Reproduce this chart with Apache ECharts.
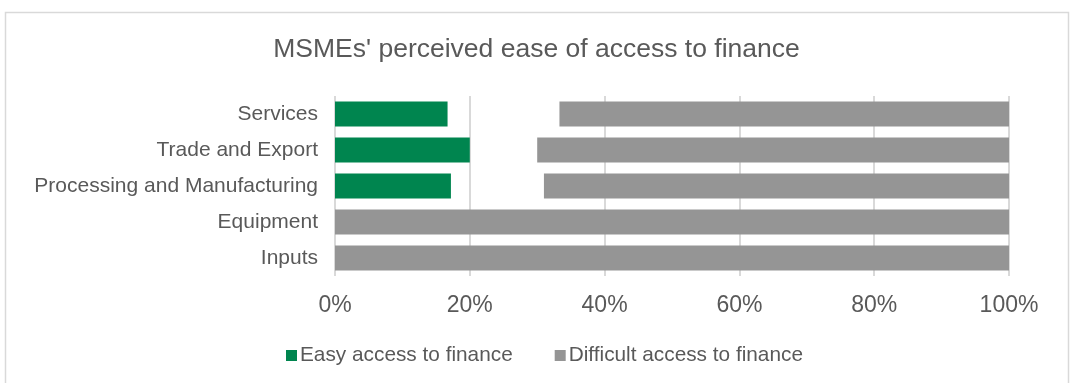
<!DOCTYPE html>
<html>
<head>
<meta charset="utf-8">
<script src="https://cdn.jsdelivr.net/npm/echarts@6/dist/echarts.min.js"></script>
<style>
  html, body { margin: 0; padding: 0; background: #fff; }
  #chart { width: 1073px; height: 383px; }
</style>
</head>
<body>
<div id="chart"></div>
<script>
// Sectors, listed bottom to top
const categories = ['Inputs', 'Equipment', 'Processing and Manufacturing', 'Trade and Export', 'Services'];
// Share of MSMEs per sector (%)
const easyAccess = [0, 0, 17.2, 20.0, 16.7];
const neutral = [0, 0, 13.8, 10.0, 16.6];
const difficultAccess = [100, 100, 69.0, 70.0, 66.7];
const xTicks = [0, 20, 40, 60, 80, 100];

const FONT = "'Liberation Sans', Arial, sans-serif";
const TEXT = '#595959';

const chart = echarts.init(document.getElementById('chart'));
chart.setOption({
  animation: false,
  backgroundColor: '#fff',
  graphic: [{
    type: 'rect',
    shape: { x: 5.5, y: 12.5, width: 1063, height: 400 },
    style: { fill: 'none', stroke: '#d9d9d9', lineWidth: 1.5 },
    silent: true
  }],
  title: {
    text: "MSMEs' perceived ease of access to finance",
    left: 'center',
    top: 31,
    textStyle: { fontFamily: FONT, fontSize: 26.5, fontWeight: 'normal', color: TEXT }
  },
  legend: {
    data: ['Easy access to finance', 'Difficult access to finance'],
    left: 281,
    top: 340,
    icon: 'rect',
    itemWidth: 11,
    itemHeight: 11,
    itemGap: 42,
    textStyle: { fontFamily: FONT, fontSize: 20.8, color: TEXT, padding: [0, 0, 0, -2] }
  },
  grid: { left: 335, right: 64, top: 96, bottom: 107 },
  xAxis: {
    type: 'value',
    min: xTicks[0],
    max: xTicks[xTicks.length - 1],
    interval: 20,
    axisLine: { show: false },
    axisTick: { show: false },
    splitLine: { lineStyle: { color: '#d9d9d9', width: 2 } },
    axisLabel: {
      formatter: v => v + '%',
      fontFamily: FONT, fontSize: 23, color: TEXT, margin: 18
    }
  },
  yAxis: {
    type: 'category',
    data: categories,
    axisLine: { show: false },
    axisTick: { show: false },
    axisLabel: { fontFamily: FONT, fontSize: 21, color: TEXT, margin: 17 }
  },
  series: [
    {
      name: 'Easy access to finance', type: 'bar', stack: 'total',
      barCategoryGap: '30%', data: easyAccess,
      itemStyle: { color: '#00854f' }
    },
    {
      name: 'Neither', type: 'bar', stack: 'total',
      data: neutral, itemStyle: { color: 'rgba(0,0,0,0)' }, silent: true
    },
    {
      name: 'Difficult access to finance', type: 'bar', stack: 'total',
      data: difficultAccess, itemStyle: { color: '#959595' }
    }
  ]
});
</script>
</body>
</html>
